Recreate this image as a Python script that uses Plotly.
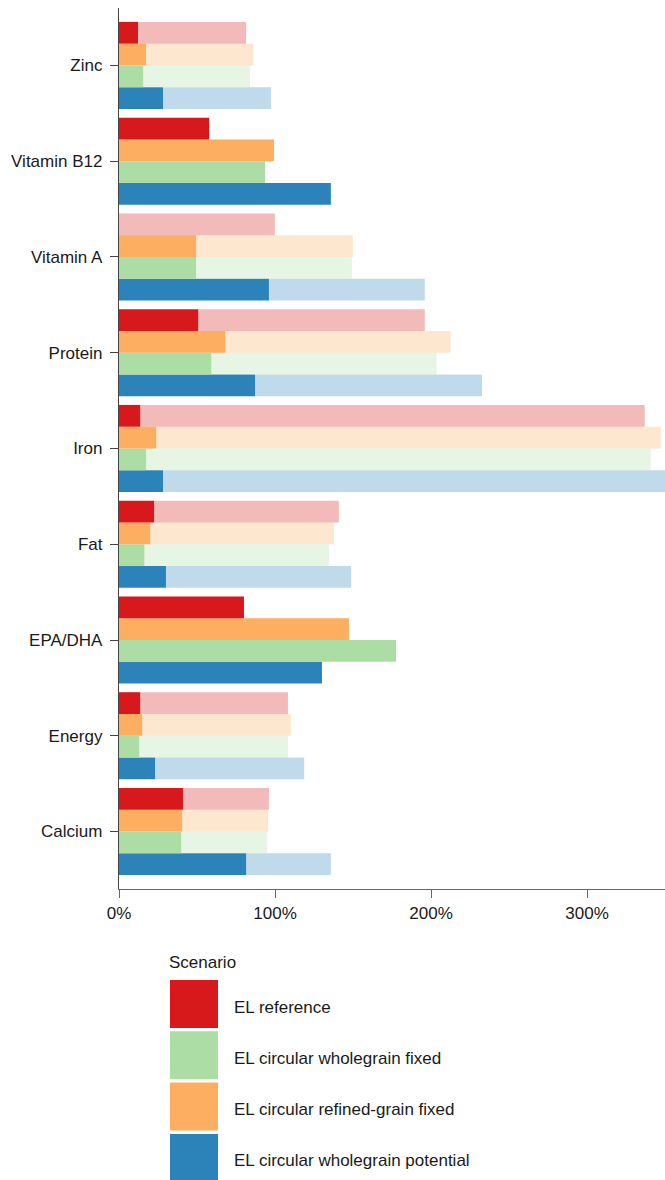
import plotly.graph_objects as go

# ---------------- data ----------------
categories = ["Calcium", "Energy", "EPA/DHA", "Fat", "Iron", "Protein",
              "Vitamin A", "Vitamin B12", "Zinc"]

scenarios = ["EL reference", "EL circular wholegrain fixed",
             "EL circular refined-grain fixed", "EL circular wholegrain potential"]

# dark (solid) part of each bar, % of requirement
ref_dark = [41.0, 13.6, 80.1, 22.5, 13.6, 50.8, 0.0, 57.8, 12.2]
wgf_dark = [39.9, 13.0, 177.6, 16.3, 17.4, 59.2, 49.4, 93.7, 15.5]
rgf_dark = [40.5, 14.9, 147.4, 20.1, 23.9, 68.2, 49.4, 99.4, 17.4]
wgp_dark = [81.5, 23.1, 130.1, 30.1, 28.2, 87.2, 96.1, 135.8, 28.2]

# total (light bar end), % of requirement
ref_total = [96.1, 108.3, 80.1, 140.9, 337.0, 196.0, 99.9, 57.8, 81.5]
wgf_total = [95.0, 108.3, 177.6, 134.7, 340.8, 203.6, 149.3, 93.7, 83.9]
rgf_total = [95.6, 110.2, 147.4, 137.9, 347.3, 212.6, 149.9, 99.4, 86.1]
wgp_total = [135.8, 118.7, 130.1, 148.8, 372.0, 232.7, 196.0, 135.8, 97.5]

colors = {
    "EL reference": "#d7191c",
    "EL circular wholegrain fixed": "#abdda4",
    "EL circular refined-grain fixed": "#fdae61",
    "EL circular wholegrain potential": "#2b83ba",
}

dark = {
    "EL reference": ref_dark,
    "EL circular wholegrain fixed": wgf_dark,
    "EL circular refined-grain fixed": rgf_dark,
    "EL circular wholegrain potential": wgp_dark,
}
total = {
    "EL reference": ref_total,
    "EL circular wholegrain fixed": wgf_total,
    "EL circular refined-grain fixed": rgf_total,
    "EL circular wholegrain potential": wgp_total,
}

# order of bars inside a group, bottom -> top
bar_order = ["EL circular wholegrain potential", "EL circular wholegrain fixed",
             "EL circular refined-grain fixed", "EL reference"]

x_range = [0, 350]


def rgba(hex_color, a):
    h = hex_color.lstrip("#")
    r, g, b = int(h[0:2], 16), int(h[2:4], 16), int(h[4:6], 16)
    return f"rgba({r},{g},{b},{a})"


fig = go.Figure()
for s in bar_order:
    d = dark[s]
    t = total[s]
    light = [max(tt - dd, 0) for tt, dd in zip(t, d)]
    fig.add_trace(go.Bar(
        y=categories, x=light, base=d, orientation="h",
        offsetgroup=s, name=s, showlegend=False,
        marker=dict(color=rgba(colors[s], 0.3), line=dict(width=0)),
    ))
    fig.add_trace(go.Bar(
        y=categories, x=d, base=[0] * len(d), orientation="h",
        offsetgroup=s, name=s, showlegend=False,
        marker=dict(color=colors[s], line=dict(width=0)),
    ))

# ---------------- layout ----------------
W, H = 665, 1180
L, R, T, B = 119, 0, 8, 291
pw, ph = W - L - R, H - T - B


def px_x(px):
    return (px - L) / pw


def px_y(py):
    return (H - B - py) / ph


font_family = "Liberation Sans, Arial, Helvetica, sans-serif"

fig.update_layout(
    width=W, height=H,
    margin=dict(l=L, r=R, t=T, b=B, pad=0),
    barmode="group",
    bargap=0.09,
    bargroupgap=0,
    plot_bgcolor="white",
    paper_bgcolor="white",
    font=dict(family=font_family, size=17, color="#1a1a1a"),
    showlegend=False,
)

fig.update_xaxes(
    range=x_range, dtick=100, ticksuffix="%",
    showgrid=False, zeroline=False,
    showline=True, linecolor="#666", linewidth=1.3,
    ticks="outside", ticklen=8, tickcolor="#666", tickwidth=1.3,
    tickfont=dict(size=17, color="#1a1a1a"),
)
fig.update_yaxes(
    type="category", categoryorder="array", categoryarray=categories,
    range=[-0.6, len(categories) - 0.4],
    showgrid=False, zeroline=False,
    showline=True, linecolor="#444", linewidth=1.3,
    ticks="outside", ticklen=8, tickcolor="#444", tickwidth=1.3,
    tickfont=dict(size=17, color="#1a1a1a"),
    ticklabelstandoff=4,
)

# ---------------- custom legend ----------------
legend_title = "Scenario"
fig.add_annotation(
    text=legend_title, xref="paper", yref="paper",
    x=px_x(167), y=px_y(962), xanchor="left", yanchor="middle",
    showarrow=False, font=dict(size=17, color="#1a1a1a"),
)
pitch = 51.3
for i, s in enumerate(scenarios):
    top = 980 + i * pitch
    fig.add_shape(
        type="rect", xref="paper", yref="paper",
        x0=px_x(170), x1=px_x(218), y0=px_y(top + 48), y1=px_y(top),
        fillcolor=colors[s], line=dict(width=0),
    )
    fig.add_annotation(
        text=s, xref="paper", yref="paper",
        x=px_x(232), y=px_y(top + 27), xanchor="left", yanchor="middle",
        showarrow=False, font=dict(size=17, color="#1a1a1a"),
    )

fig.write_html("out.html")
